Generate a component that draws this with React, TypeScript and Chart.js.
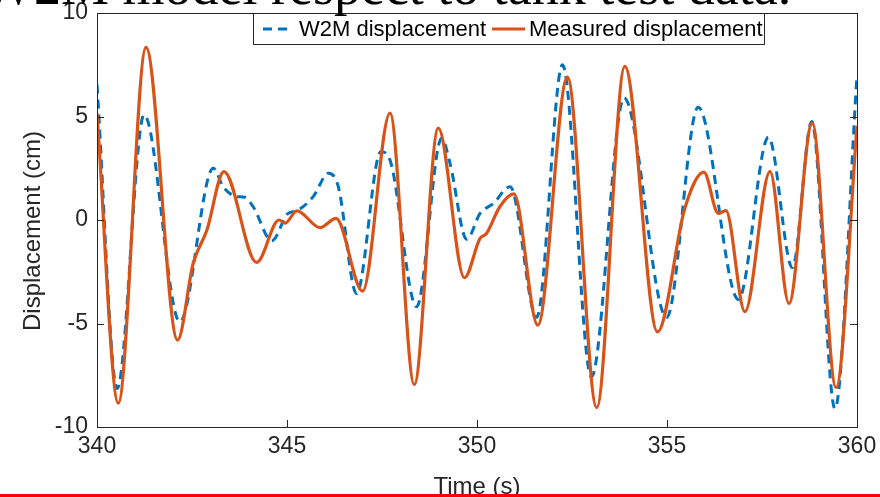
import React, { useEffect, useRef } from "react";
import { Chart, registerables } from "chart.js";

Chart.register(...registerables);

// ---- data ----
const timeTicks = [340, 345, 350, 355, 360];
const dispTicks = [-10, -5, 0, 5, 10];

const measuredTime = [
  340, 340.56, 341.29, 342.12, 342.53, 342.89, 343.34, 344.2, 344.79, 344.95,
  345.26, 345.87, 346.29, 346.99, 347.71, 348.35, 348.98, 349.67, 350.08, 350.25,
  350.6, 350.97, 351.6, 352.38, 353.15, 353.89, 354.75, 355.47, 355.97, 356.35,
  356.55, 357.05, 357.71, 358.21, 358.82, 359.45, 360,
];
const measuredDisp = [
  5.15, -8.84, 8.34, -5.8, -2.1, -0.5, 2.34, -2.05, 0.0, -0.15,
  0.44, -0.37, 0.08, -3.44, 5.16, -7.95, 4.44, -2.79, -0.89, -0.65,
  0.64, 1.26, -5.08, 6.9, -9.06, 7.42, -5.4, 0.57, 2.31, 0.32,
  0.45, -4.43, 2.34, -4.03, 4.68, -8.1, 4.55,
];

const w2mTime = [
  340, 340.53, 341.24, 342.18, 343.06, 343.32, 343.68, 343.88, 344.11, 344.6,
  345.03, 345.25, 345.69, 346.09, 346.35, 346.83, 347.47, 347.71, 348.41, 349.07,
  349.29, 349.73, 350.08, 350.43, 350.87, 351.57, 352.25, 353.01, 353.87, 354.99,
  355.82, 356.88, 357.67, 358.3, 358.81, 359.42, 360,
];
const w2mDisp = [
  6.53, -8.14, 5.08, -4.92, 2.5, 1.61, 1.13, 1.1, 0.64, -1.0,
  0.32, 0.44, 1.13, 2.26, 1.61, -3.55, 3.3, 2.9, -4.19, 3.95,
  2.74, -0.93, 0.32, 0.8, 1.61, -4.7, 7.5, -7.58, 5.9, -4.71,
  5.45, -3.84, 4.0, -2.3, 4.76, -9.11, 7.0,
];

const seriesLabels = ["W2M displacement", "Measured displacement"];
const titleText = "W2M model respect to tank test data.";
const xTitle = "Time (s)";
const yTitle = "Displacement (cm)";

const BLUE = "#0072BD";
const ORANGE = "#D95319";
const AXIS = "#262626";
const SANS = "'Liberation Sans', Arial, sans-serif";
const SERIF = "'Liberation Serif', 'Times New Roman', serif";

const framePlugin = {
  id: "matlabFrame",
  afterDraw(chart: any) {
    const ctx = chart.ctx;
    const { left, right, top, bottom } = chart.chartArea;
    const xs = chart.scales.x;
    const ys = chart.scales.y;
    ctx.save();
    // box
    ctx.strokeStyle = AXIS;
    ctx.lineWidth = 1;
    ctx.strokeRect(Math.round(left) + 0.5, Math.round(top) + 0.5, Math.round(right - left), Math.round(bottom - top));
    // inward ticks
    const tl = 7;
    ctx.beginPath();
    timeTicks.forEach((v) => {
      const px = Math.round(xs.getPixelForValue(v)) + 0.5;
      ctx.moveTo(px, bottom);
      ctx.lineTo(px, bottom - tl);
      ctx.moveTo(px, top);
      ctx.lineTo(px, top + tl);
    });
    dispTicks.forEach((v) => {
      const py = Math.round(ys.getPixelForValue(v)) + 0.5;
      ctx.moveTo(left, py);
      ctx.lineTo(left + tl, py);
      ctx.moveTo(right, py);
      ctx.lineTo(right - tl, py);
    });
    ctx.stroke();

    // y-axis title
    ctx.save();
    ctx.translate(33, 231);
    ctx.rotate(-Math.PI / 2);
    ctx.fillStyle = AXIS;
    ctx.font = `24px ${SANS}`;
    ctx.textAlign = "center";
    ctx.textBaseline = "middle";
    ctx.fillText(yTitle, 0, 0);
    ctx.restore();

    // legend box
    const lx = 253.5, ly = 13.5, lw = 511, lh = 31;
    ctx.fillStyle = "#ffffff";
    ctx.fillRect(lx, ly, lw, lh);
    ctx.strokeStyle = AXIS;
    ctx.lineWidth = 1;
    ctx.strokeRect(lx, ly, lw, lh);
    const cy = 29;
    ctx.lineWidth = 3;
    ctx.strokeStyle = BLUE;
    ctx.setLineDash([9, 6]);
    ctx.beginPath();
    ctx.moveTo(263, cy);
    ctx.lineTo(293, cy);
    ctx.stroke();
    ctx.setLineDash([]);
    ctx.strokeStyle = ORANGE;
    ctx.beginPath();
    ctx.moveTo(492, cy);
    ctx.lineTo(525, cy);
    ctx.stroke();
    ctx.fillStyle = "#000000";
    ctx.font = `22px ${SANS}`;
    ctx.textBaseline = "middle";
    ctx.textAlign = "left";
    ctx.fillText(seriesLabels[0], 299, cy + 1);
    ctx.fillText(seriesLabels[1], 529, cy + 1);

    // clipped caption title
    ctx.font = `54px ${SERIF}`;
    ctx.textBaseline = "alphabetic";
    ctx.fillStyle = "#000000";
    ctx.fillText(titleText, -17, 4);

    // red rule at bottom
    ctx.fillStyle = "#ff0000";
    ctx.fillRect(0, 494, chart.width, 3);
    ctx.restore();
  },
};

export default function App() {
  const canvasRef = useRef<HTMLCanvasElement | null>(null);

  useEffect(() => {
    const canvas = canvasRef.current;
    if (!canvas) return;
    const measured = measuredTime.map((t, i) => ({ x: t, y: measuredDisp[i] }));
    const w2m = w2mTime.map((t, i) => ({ x: t, y: w2mDisp[i] }));

    const chart = new Chart(canvas, {
      type: "line",
      data: {
        datasets: [
          {
            label: seriesLabels[1],
            data: measured,
            borderColor: ORANGE,
            backgroundColor: ORANGE,
            borderWidth: 3.2,
            pointRadius: 0,
            cubicInterpolationMode: "monotone",
            fill: false,
          },
          {
            label: seriesLabels[0],
            data: w2m,
            borderColor: BLUE,
            backgroundColor: BLUE,
            borderWidth: 3,
            borderDash: [9, 6],
            pointRadius: 0,
            cubicInterpolationMode: "monotone",
            fill: false,
          },
        ],
      },
      options: {
        responsive: false,
        animation: false,
        devicePixelRatio: 1,
        layout: { padding: { top: 13, right: 23, bottom: 0, left: 0 } },
        plugins: {
          legend: { display: false },
          tooltip: { enabled: false },
          title: { display: false },
        },
        scales: {
          x: {
            type: "linear",
            min: 340,
            max: 360,
            afterBuildTicks: (s: any) => {
              s.ticks = timeTicks.map((v) => ({ value: v }));
            },
            afterFit: (s: any) => {
              s.height = 70;
              s.paddingLeft = 0;
              s.paddingRight = 0;
            },
            ticks: {
              color: AXIS,
              font: { family: SANS, size: 23, lineHeight: 1 },
              padding: 8,
              maxRotation: 0,
              autoSkip: false,
            },
            grid: { display: false, drawTicks: false },
            border: { display: false },
            title: {
              display: true,
              text: xTitle,
              color: AXIS,
              font: { family: SANS, size: 24, lineHeight: 1 },
              padding: { top: 0, bottom: -2 },
            },
          },
          y: {
            type: "linear",
            min: -10,
            max: 10,
            afterBuildTicks: (s: any) => {
              s.ticks = dispTicks.map((v) => ({ value: v }));
            },
            afterFit: (s: any) => {
              s.width = 97;
              s.paddingTop = 0;
              s.paddingBottom = 0;
            },
            ticks: {
              color: AXIS,
              font: { family: SANS, size: 23, lineHeight: 1 },
              padding: 9,
              autoSkip: false,
            },
            grid: { display: false, drawTicks: false },
            border: { display: false },
            title: { display: false },
          },
        },
      },
      plugins: [framePlugin],
    });

    return () => {
      chart.destroy();
    };
  }, []);

  return (
    <div style={{ position: "fixed", left: 0, top: 0, width: 880, height: 497, background: "#ffffff" }}>
      <canvas ref={canvasRef} width={880} height={497} style={{ display: "block", width: 880, height: 497 }} />
    </div>
  );
}
